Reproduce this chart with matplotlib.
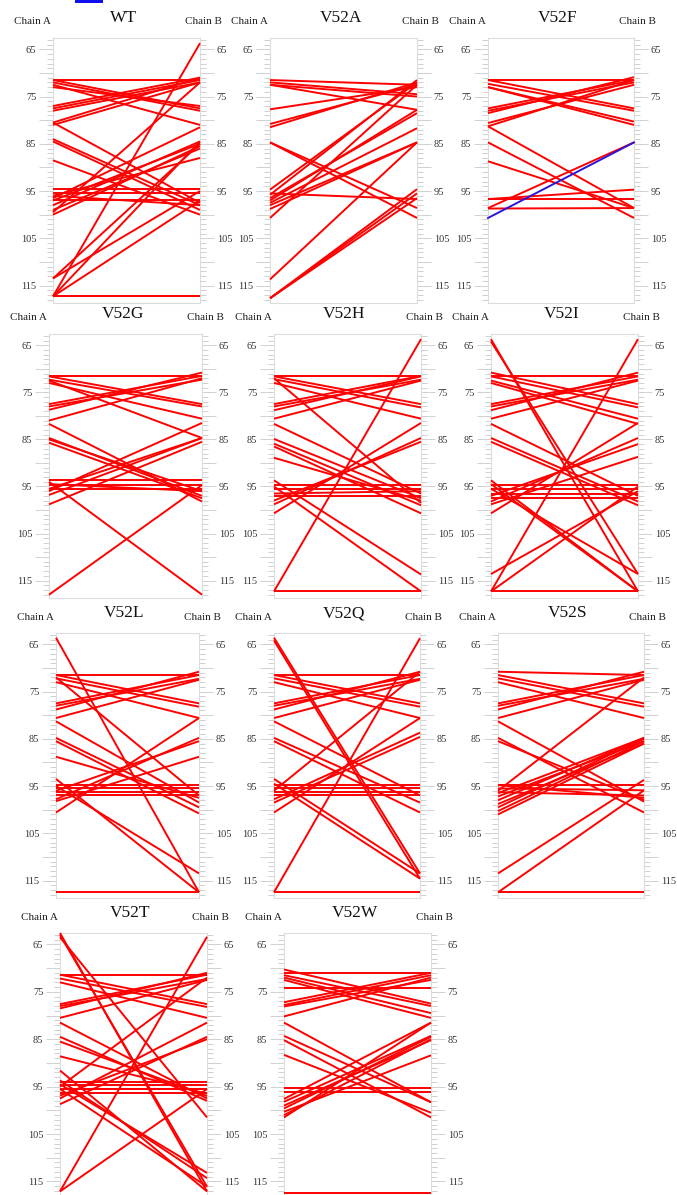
import matplotlib
matplotlib.use("Agg")
import matplotlib.pyplot as plt
from matplotlib.ticker import MultipleLocator, FixedLocator
from matplotlib.patches import Rectangle

# Residue contacts between chain A and chain B for each variant
wt_a = [71.5, 71.5, 72.0, 72.5, 73.0, 77.0, 77.5, 78.0, 80.5, 81.0, 80.5, 84.0, 84.5, 88.5,
        94.5, 95.5, 96.0, 97.0, 97.0, 98.0, 99.0, 100.0, 96.0, 96.5, 99.5,
        113.5, 117.3, 117.3, 117.3, 113.5, 117.3]
wt_b = [71.5, 77.5, 78.0, 81.0, 77.0, 71.0, 71.5, 72.0, 71.0, 72.0, 97.5, 98.0, 99.0, 100.0,
        94.5, 95.5, 98.0, 97.0, 85.0, 84.5, 86.0, 85.5, 88.0, 81.5, 72.0,
        95.0, 63.7, 84.5, 97.0, 85.0, 117.3]

v52a_a = [71.5, 72.0, 72.5, 72.5, 77.7, 80.8, 81.5, 84.7, 84.7, 94.7, 95.5, 95.8,
          96.5, 97.0, 97.5, 98.0, 98.8, 100.7, 113.7, 117.7, 117.7, 117.7]
v52a_b = [72.5, 74.5, 75.0, 77.8, 73.0, 72.5, 72.0, 98.6, 100.7, 72.0, 96.7, 71.5,
          78.5, 77.8, 81.7, 84.7, 84.7, 72.5, 84.7, 94.6, 95.5, 96.5]

v52f_a = [71.5, 71.5, 72.3, 73.0, 73.0, 77.5, 78.0, 78.5, 80.6, 81.3, 81.3, 84.7,
          88.7, 96.7, 96.7, 98.6, 98.7]
v52f_b = [71.5, 77.5, 78.0, 80.3, 81.0, 71.5, 72.0, 70.9, 72.5, 71.5, 98.6, 100.7,
          98.6, 94.7, 96.7, 84.7, 98.6]
v52f_new_a = [100.7]
v52f_new_b = [84.7]

v52g_a = [71.6, 71.6, 72.3, 73.0, 72.5, 77.5, 78.0, 78.7, 81.0, 81.7, 84.7, 85.7,
          85.0, 93.7, 94.7, 95.5, 94.5, 96.8, 98.8, 96.0, 95.5, 94.0, 118.0]
v52g_b = [71.6, 77.5, 78.0, 80.6, 84.7, 71.5, 72.3, 70.8, 72.0, 98.2, 97.0, 97.5,
          96.0, 93.7, 94.7, 95.5, 96.0, 84.7, 85.5, 81.5, 84.7, 118.0, 94.7]

v52h_a = [71.6, 71.6, 72.2, 73.0, 72.0, 77.5, 78.0, 78.8, 80.6, 81.7, 84.9, 85.9,
          86.5, 88.9, 93.7, 95.0, 94.7, 95.5, 96.5, 97.0, 98.8, 98.0, 100.7,
          117.3, 117.3]
v52h_b = [71.6, 77.5, 78.2, 80.6, 98.5, 71.5, 72.3, 71.6, 72.5, 96.5, 97.5, 99.0,
          100.7, 98.0, 113.7, 117.3, 94.7, 95.5, 96.0, 97.0, 84.7, 85.5, 81.5,
          63.7, 117.3]

v52i_a = [63.7, 64.2, 117.3, 117.3, 113.6, 117.3, 93.7, 94.5, 95.5,
          71.6, 70.8, 71.6, 72.5, 73.0, 77.5, 78.0, 78.8, 80.6, 81.7, 84.7, 85.5,
          94.7, 95.5, 96.5, 97.5, 98.2, 98.8, 100.7, 97.0]
v52i_b = [117.3, 113.6, 63.7, 117.3, 96.0, 95.0, 117.3, 117.3, 113.6,
          71.6, 77.5, 78.2, 80.6, 81.7, 71.6, 72.3, 70.8, 72.5, 97.0, 98.2, 99.0,
          94.7, 95.5, 96.5, 97.5, 84.7, 88.7, 81.5, 86.0]

v52l_a = [63.6, 71.5, 71.5, 72.2, 73.0, 72.0, 77.5, 78.0, 78.8, 80.6, 81.3, 84.8,
          85.5, 88.8, 93.5, 95.0, 94.7, 95.5, 96.3, 97.0, 97.8, 98.2, 100.6, 96.0,
          117.5]
v52l_b = [117.5, 71.5, 77.5, 78.2, 80.6, 97.0, 71.5, 72.3, 70.8, 72.5, 98.5, 99.5,
          100.8, 97.5, 117.5, 113.5, 94.7, 95.5, 96.3, 97.0, 84.8, 88.8, 80.6, 85.5,
          117.5]

v52q_a = [63.6, 64.2, 117.5, 117.5, 93.5, 94.5, 71.5, 71.5, 72.2, 73.0, 77.5, 78.0,
          78.8, 80.6, 81.3, 84.8, 85.5, 94.7, 95.5, 96.3, 97.0, 97.8, 98.5, 100.6,
          96.0]
v52q_b = [113.5, 114.6, 63.7, 117.5, 113.5, 114.6, 71.5, 77.5, 78.2, 80.6, 71.5, 72.3,
          70.8, 72.5, 97.0, 98.5, 100.6, 94.7, 95.5, 96.3, 97.0, 83.7, 84.6, 80.6,
          70.8]

v52s_a = [70.8, 71.5, 72.2, 73.0, 77.5, 78.0, 78.8, 80.6, 81.3, 84.8, 85.5, 94.8,
          95.5, 96.3, 94.8, 96.0, 96.5, 97.2, 98.0, 98.8, 99.5, 100.3, 101.0,
          113.5, 117.5, 117.5]
v52s_b = [71.5, 77.5, 78.2, 80.6, 71.5, 72.3, 70.8, 72.5, 98.3, 100.6, 98.0, 94.8,
          95.9, 97.0, 97.5, 72.0, 84.8, 85.5, 84.8, 86.0, 85.0, 85.5, 86.0,
          93.7, 95.9, 117.5]

v52t_a = [62.6, 63.0, 63.5, 117.1, 117.1, 91.6, 93.7, 94.5, 95.5,
          71.4, 71.4, 72.2, 73.0, 77.6, 78.0, 78.5, 80.5, 81.5, 84.5, 85.5, 88.6,
          94.0, 94.7, 95.5, 96.3, 96.9, 98.7, 97.5, 95.0]
v52t_b = [117.1, 116.1, 101.5, 63.4, 95.5, 117.1, 114.3, 113.2, 116.1,
          71.4, 77.6, 78.2, 80.5, 71.4, 72.3, 71.0, 72.5, 97.5, 98.0, 97.0, 96.5,
          94.0, 94.7, 95.5, 96.3, 85.0, 84.5, 81.5, 72.0]

v52w_a = [71.0, 70.3, 71.5, 72.0, 72.5, 74.1, 77.2, 77.8, 78.1, 80.2, 81.5, 84.3,
          85.2, 88.3, 95.3, 96.2, 97.6, 98.2, 99.0, 99.6, 100.3, 101.0, 101.5,
          117.5]
v52w_b = [71.0, 77.5, 78.0, 79.5, 80.5, 74.1, 71.0, 71.5, 72.5, 72.0, 98.3, 98.3,
          101.5, 100.5, 95.3, 96.2, 81.5, 84.3, 85.2, 84.5, 88.4, 85.0, 81.5,
          117.5]

titles = ["WT", "V52A", "V52F", "V52G", "V52H", "V52I",
          "V52L", "V52Q", "V52S", "V52T", "V52W"]
contacts = [(wt_a, wt_b), (v52a_a, v52a_b), (v52f_a, v52f_b),
            (v52g_a, v52g_b), (v52h_a, v52h_b), (v52i_a, v52i_b),
            (v52l_a, v52l_b), (v52q_a, v52q_b), (v52s_a, v52s_b),
            (v52t_a, v52t_b), (v52w_a, v52w_b)]
tick_values = [65, 75, 85, 95, 105, 115]

# Panel boxes in pixels: left, top, right, bottom
W, H = 677, 1195
boxes = [(53, 38, 200, 303), (270, 38, 417, 303), (488, 38, 634, 303),
         (49, 334, 202, 598), (274, 334, 421, 598), (491, 334, 638, 598),
         (56, 633, 199, 898), (274, 633, 420, 898), (498, 633, 644, 898),
         (60, 933, 207, 1199), (284, 933, 431, 1199)]

SERIF = ["Liberation Serif", "DejaVu Serif"]
RED = "#ff0000"
BLUE = "#2a16d8"
GRID_GREY = "#d0d0d0"

fig = plt.figure(figsize=(W / 100, H / 100), dpi=100)
fig.patch.set_facecolor("white")


def fx(px):
    return px / W


def fy(py):
    return 1 - py / H


for title, (a_vals, b_vals), (l, t, r, b) in zip(titles, contacts, boxes):
    ax = fig.add_axes([fx(l), fy(b), (r - l) / W, (b - t) / H])
    ax.set_xlim(0, 1)
    ax.set_ylim(118.7, 62.6)
    for ya, yb in zip(a_vals, b_vals):
        ax.plot([0, 1], [ya, yb], color=RED, lw=1.4, solid_capstyle="butt",
                clip_on=False, zorder=3)
    if title == "V52F":
        for ya, yb in zip(v52f_new_a, v52f_new_b):
            ax.plot([0, 1], [ya, yb], color=BLUE, lw=1.4, clip_on=False, zorder=4)

    ax.set_xticks([])
    ax.yaxis.set_major_locator(FixedLocator(list(range(65, 120, 5))))
    ax.yaxis.set_minor_locator(MultipleLocator(1))
    ax.set_yticklabels([str(v) if v in tick_values else "" for v in range(65, 120, 5)])
    ax.tick_params(axis="y", which="both", left=True, right=True,
                   labelleft=True, labelright=True, direction="out",
                   color=GRID_GREY, width=0.7)
    ax.tick_params(axis="y", which="major", length=10, pad=2,
                   labelsize=7.5, labelcolor="#333333")
    ax.tick_params(axis="y", which="minor", length=4)
    for lbl in ax.get_yticklabels(which="both"):
        lbl.set_family(SERIF)
    for sp in ax.spines.values():
        sp.set_color("#dcdcdc")
        sp.set_linewidth(0.8)

    fig.text(fx((l + r) / 2 - 3), fy(t - 20), title, ha="center", va="center",
             family=SERIF, fontsize=12.5, color="#111111")
    fig.text(fx(l - 21), fy(t - 16), "Chain A", ha="center", va="center",
             family=SERIF, fontsize=8, color="#222222")
    fig.text(fx(r + 3), fy(t - 16), "Chain B", ha="center", va="center",
             family=SERIF, fontsize=8, color="#222222")

# Legend swatch at the top edge
fig.patches.append(Rectangle((fx(75), fy(3)), 28 / W, 3 / H, transform=fig.transFigure,
                             facecolor="#1010ee", edgecolor="none"))

fig.savefig("out.png", dpi=100, facecolor="white")
